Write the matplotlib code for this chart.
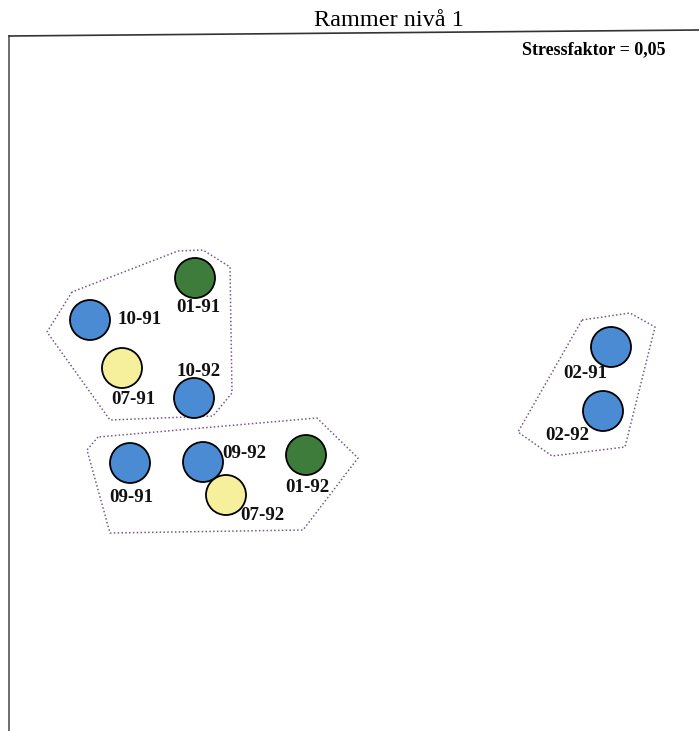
import matplotlib
matplotlib.use('Agg')
from matplotlib import pyplot as plt

# data (positions, in pixel units of the original)
labels = ['01-91', '10-91', '07-91', '10-92', '09-91', '09-92', '07-92', '01-92', '02-91', '02-92']
x_pos = [195, 90, 122, 194, 130, 203, 226, 306, 611, 603]
y_pos = [278, 320, 368, 398, 463, 462, 495, 455, 347, 411]
groups = ['green', 'blue', 'yellow', 'blue', 'blue', 'blue', 'yellow', 'green', 'blue', 'blue']

# label anchors (left edge, vertical centre)
label_x = [176, 118, 111, 177, 109, 222, 240, 285, 563, 545]
label_y = [308, 320, 399, 372, 498, 453, 516, 488, 373, 436]

hull1 = [(72, 292), (47, 332), (110, 420), (213, 416), (232, 393), (230, 267), (203, 250), (178, 251)]
hull2 = [(98, 437), (87, 450), (110, 533), (303, 530), (358, 458), (317, 418)]
hull3 = [(582, 320), (630, 313), (655, 327), (625, 447), (552, 456), (518, 432)]

colors = {'blue': '#4a8bd4', 'green': '#3e7c3c', 'yellow': '#f6f09c'}

fig = plt.figure(figsize=(6.99, 7.31), dpi=100)
ax = fig.add_axes([0, 0, 1, 1])
ax.set_xlim(0, 699)
ax.set_ylim(731, 0)
ax.axis('off')

# frame
ax.plot([9, 9], [36, 731], color='#555555', lw=1.2)
ax.plot([9, 699], [36, 30], color='#333333', lw=1.2)

# hulls
for hull in [hull1, hull2, hull3]:
    xs = [p[0] for p in hull] + [hull[0][0]]
    ys = [p[1] for p in hull] + [hull[0][1]]
    ax.plot(xs, ys, linestyle=(0, (1, 1.5)), color='#7a5a8a', lw=1.1)

# circles
ax.scatter(x_pos, y_pos, s=830, c=[colors[g] for g in groups],
           edgecolors='black', linewidths=1.3, zorder=3)

for lab, lx, ly in zip(labels, label_x, label_y):
    ax.text(lx, ly, lab, ha='left', va='center', fontsize=13.6, fontweight='bold',
            family='Liberation Serif', color='#111111', zorder=4)

ax.text(389, 20, 'Rammer nivå 1', ha='center', va='center', fontsize=17.5,
        family='Liberation Serif')
ax.text(665, 50, 'Stressfaktor = 0,05', ha='right', va='center', fontsize=13,
        fontweight='bold', family='Liberation Serif')

fig.savefig('out.png', dpi=100)
